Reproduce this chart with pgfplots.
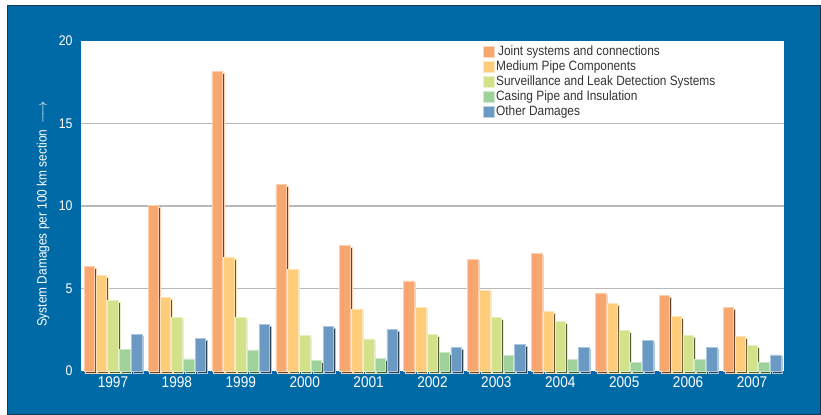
\documentclass[border=0pt]{standalone}
\usepackage{fontspec}
\setmainfont{Liberation Sans}[FakeStretch=0.88]
\usepackage{pgfplots}
\pgfplotsset{compat=1.18}
\usetikzlibrary{shadows}
\definecolor{bgblue}{HTML}{006AA7}
\definecolor{frame}{HTML}{1C3550}
\definecolor{cjoint}{HTML}{F8A86E}
\definecolor{cmed}{HTML}{FDCD7B}
\definecolor{csurv}{HTML}{D3E18A}
\definecolor{ccase}{HTML}{9ED29A}
\definecolor{cother}{HTML}{6A9AC3}
\definecolor{legtext}{HTML}{333333}

\makeatletter
\tikzset{noshadow/.code={\let\tikz@preactions\pgfutil@empty}}
\makeatother

\pgfplotsset{
  barstyle/.style={fill=#1, draw=#1!55!white, line width=0.6bp,
    drop shadow={shadow xshift=1.6bp, shadow yshift=-2bp, fill=#1!40!black, opacity=1},
    legend image code/.code={\draw[noshadow, fill=#1, draw=#1!45!white, line width=0.8bp]
      (0.5bp,-5.5bp) rectangle (11.5bp,5.5bp);}},
}

\begin{document}
\begin{tikzpicture}
\path[use as bounding box] (-81bp,-44bp) rectangle (740bp,371bp);
\fill[bgblue, draw=frame, line width=1bp] (-73bp,-43bp) rectangle (739bp,365bp);
\begin{axis}[
  width=703bp, height=330bp, scale only axis,
  ymin=0, ymax=20, xmin=-0.5, xmax=10.5,
  axis background/.style={fill=white},
  axis line style={draw=none},
  major tick length=0pt,
  /pgf/number format/assume math mode=true,
  ytick={5,10,15},
  extra y ticks={0,20},
  extra y tick style={grid=none},
  ymajorgrids,
  grid style={black!28, line width=1.2bp},
  xtick={0,...,10},
  xticklabels={1997,1998,1999,2000,2001,2002,2003,2004,2005,2006,2007},
  xticklabel style={font=\fontsize{15.5bp}{17bp}\selectfont, text=white, yshift=-2bp},
  yticklabel style={font=\fontsize{14bp}{16bp}\selectfont, text=white, xshift=-5bp},
  ylabel={System Damages per 100 km section \,$\longrightarrow$},
  every axis y label/.style={at={(axis description cs:-0.054,0.476)}, rotate=90, anchor=center,
    font=\fontsize{13.5bp}{15bp}\selectfont, text=white},
  ybar=1.3bp, bar width=10.5bp,
  clip=false,
  legend style={at={(0.572,0.99)}, anchor=north west, draw=none, fill=none,
    inner sep=0pt, row sep=0bp, font=\fontsize{13.5bp}{15bp}\selectfont, text=legtext,
    nodes={inner sep=1bp, text height=10bp, text depth=3bp}},
  legend cell align=left,
]
\addplot[barstyle=cjoint] coordinates {
  (0,6.33) (1,10.03) (2,18.14) (3,11.31) (4,7.61) (5,5.46) (6,6.76) (7,7.12) (8,4.73) (9,4.57) (10,3.85)};
\addlegendentry{\hspace{2bp}Joint systems and connections}
\addplot[barstyle=cmed] coordinates {
  (0,5.78) (1,4.45) (2,6.92) (3,6.15) (4,3.76) (5,3.85) (6,4.90) (7,3.60) (8,4.09) (9,3.30) (10,2.09)};
\addlegendentry{Medium Pipe Components}
\addplot[barstyle=csurv] coordinates {
  (0,4.29) (1,3.25) (2,3.24) (3,2.15) (4,1.94) (5,2.21) (6,3.24) (7,3.03) (8,2.45) (9,2.18) (10,1.54)};
\addlegendentry{Surveillance and Leak Detection Systems}
\addplot[barstyle=ccase] coordinates {
  (0,1.30) (1,0.73) (2,1.28) (3,0.63) (4,0.75) (5,1.13) (6,0.93) (7,0.69) (8,0.51) (9,0.71) (10,0.51)};
\addlegendentry{Casing Pipe and Insulation}
\addplot[barstyle=cother] coordinates {
  (0,2.21) (1,1.97) (2,2.82) (3,2.69) (4,2.51) (5,1.42) (6,1.60) (7,1.42) (8,1.84) (9,1.42) (10,0.97)};
\addlegendentry{Other Damages}
\end{axis}
\end{tikzpicture}
\end{document}
